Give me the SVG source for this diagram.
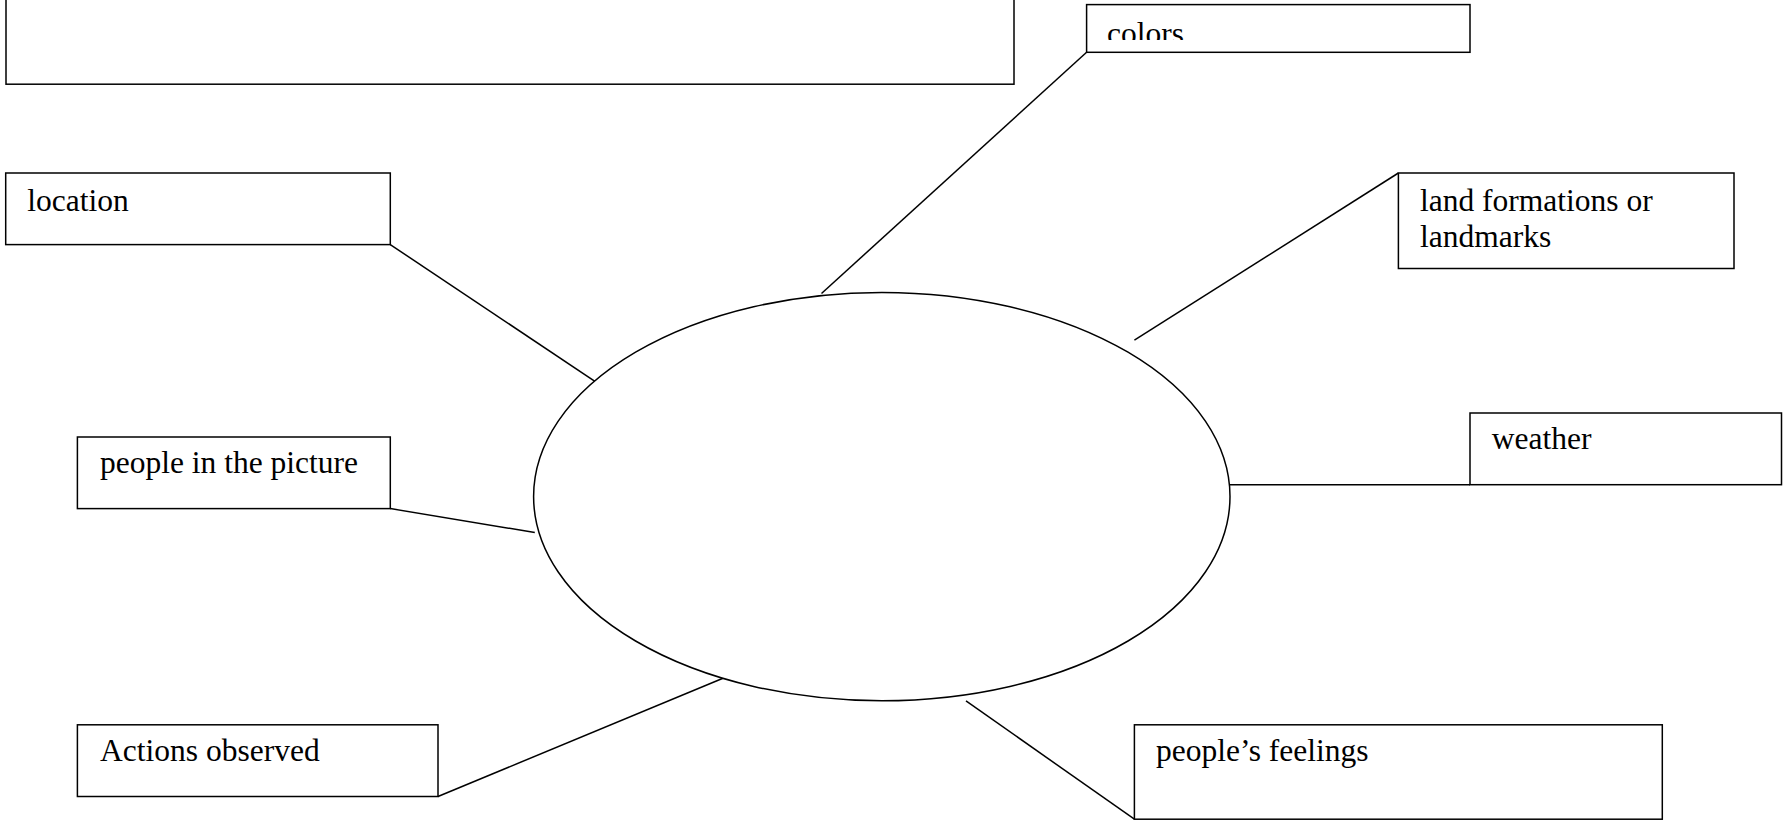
<svg xmlns="http://www.w3.org/2000/svg" width="1784" height="821" viewBox="0 0 1784 821">
<style>
.box{fill:#fff;stroke:#000;stroke-width:1.5}
.lbl{font-family:"Liberation Serif","Times New Roman",serif;font-size:31.5px;fill:#000}
.conn line{stroke:#000;stroke-width:1.5}
</style>
<defs>
<clipPath id="clipColors"><rect x="1087" y="5" width="382" height="35"/></clipPath>
</defs>
<rect width="1784" height="821" fill="#fff"/>
<g id="connectors" class="conn">
<line x1="390.3" y1="244.6" x2="606.5" y2="389.1"/>
<line x1="1086.6" y1="52.3" x2="821.5" y2="293.5"/>
<line x1="1398.4" y1="173" x2="1134.4" y2="340.2"/>
<line x1="1230" y1="484.7" x2="1470" y2="484.7"/>
<line x1="390.3" y1="508.6" x2="534.8" y2="532.5"/>
<line x1="438" y1="796.5" x2="726" y2="677"/>
<line x1="966" y1="700.9" x2="1134.4" y2="819.2"/>
</g>
<g id="title-box"><rect class="box" x="6" y="-5" width="1008" height="89.2"/></g>
<g id="center"><ellipse class="box" cx="881.8" cy="496.6" rx="348.2" ry="204.2"/></g>
<g id="colors"><rect class="box" x="1086.6" y="4.6" width="383.4" height="47.7"/><text class="lbl" x="1107" y="44" clip-path="url(#clipColors)">colors</text></g>
<g id="location"><rect class="box" x="5.7" y="173" width="384.6" height="71.6"/><text class="lbl" x="27.3" y="210.5">location</text></g>
<g id="land"><rect class="box" x="1398.4" y="173" width="335.6" height="95.5"/><text class="lbl" x="1420" y="210.5">land formations or</text><text class="lbl" x="1420" y="247">landmarks</text></g>
<g id="weather"><rect class="box" x="1470" y="413" width="311.5" height="71.7"/><text class="lbl" x="1491.7" y="449.4">weather</text></g>
<g id="people"><rect class="box" x="77.4" y="437" width="312.9" height="71.6"/><text class="lbl" x="100" y="473.3">people in the picture</text></g>
<g id="actions"><rect class="box" x="77.4" y="724.8" width="360.6" height="71.7"/><text class="lbl" x="100.1" y="761.2">Actions observed</text></g>
<g id="feelings"><rect class="box" x="1134.4" y="724.8" width="527.9" height="94.4"/><text class="lbl" x="1156" y="761.2">people’s feelings</text></g>
</svg>
